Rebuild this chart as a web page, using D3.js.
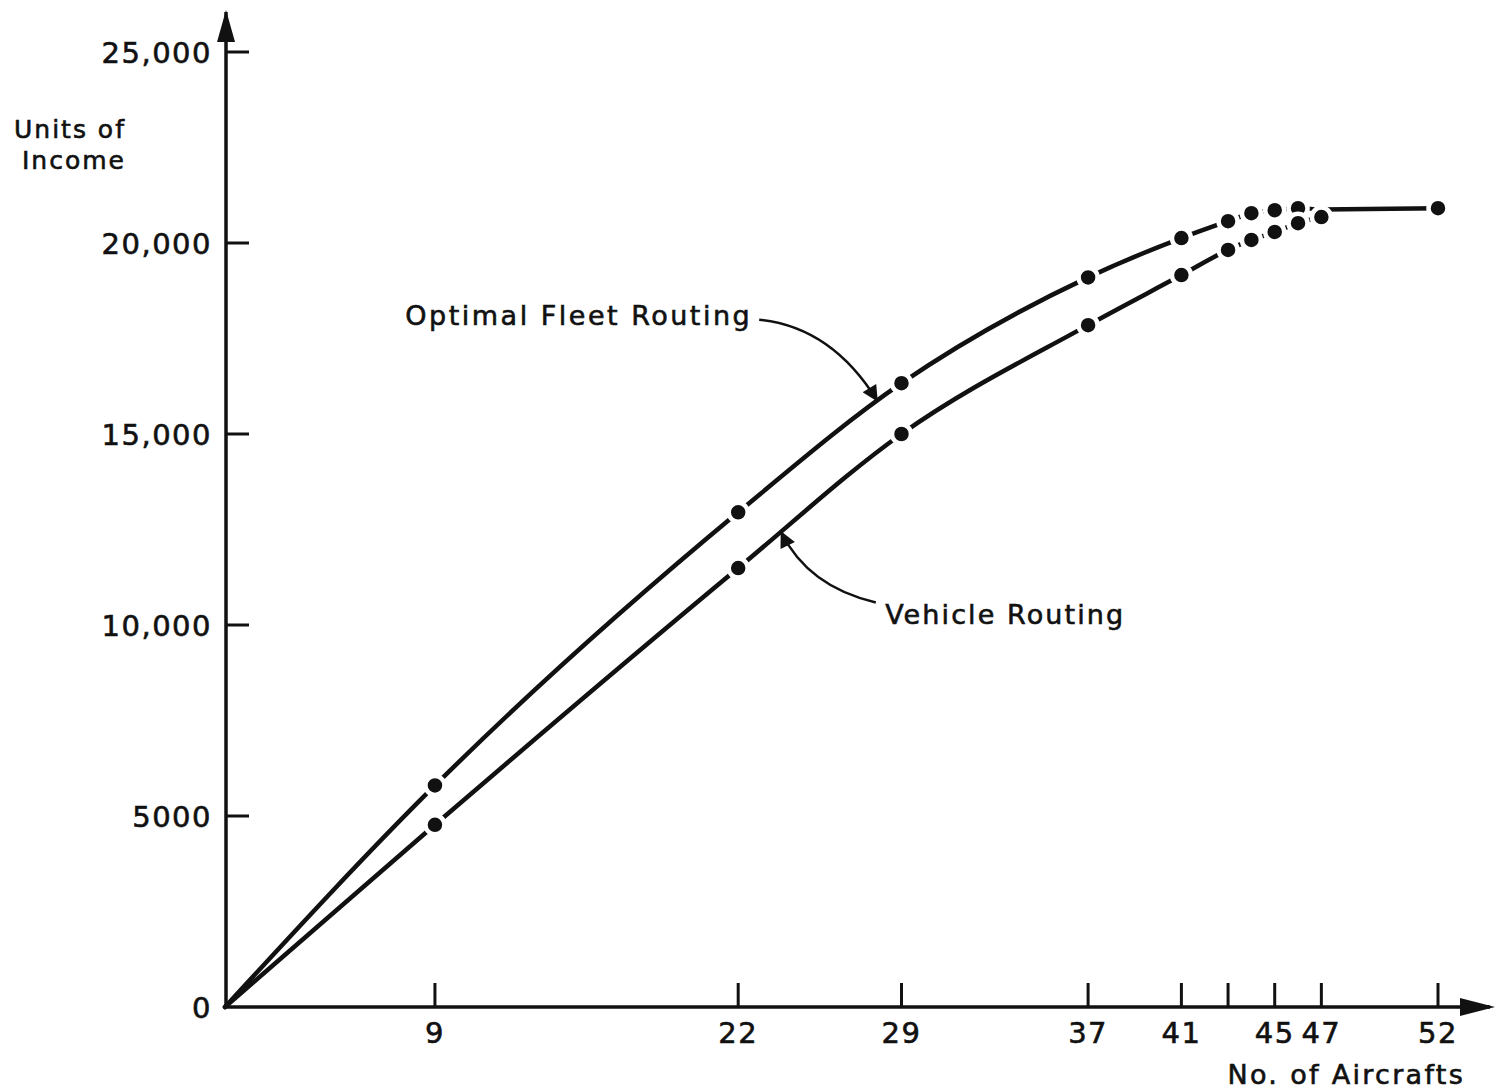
<!DOCTYPE html>
<html>
<head>
<meta charset="utf-8">
<script src="https://cdn.jsdelivr.net/npm/d3@7"></script>
<style>
  body { margin: 0; background: #fff; }
  text { font-family: "DejaVu Sans", sans-serif; fill: #111; stroke: #111; stroke-width: 0.6px; }
</style>
</head>
<body>
<script>
// values
const optimalX = [0, 9, 22, 29, 37, 41, 43, 44, 45, 46];
const optimalY = [0, 5800, 12950, 16330, 19100, 20130, 20570, 20780, 20860, 20910];
const vehicleX = [0, 9, 22, 29, 37, 41, 43, 44, 45, 46, 47];
const vehicleY = [0, 4770, 11490, 15000, 17850, 19160, 19820, 20080, 20290, 20520, 20680];
const tailX = [47, 52];
const tailY = [20880, 20910];
const xTicks = [9, 22, 29, 37, 41, 43, 45, 47, 52];
const xTickLabels = ["9", "22", "29", "37", "41", "", "45", "47", "52"];
const yTicks = [0, 5000, 10000, 15000, 20000, 25000];
const yTickLabels = ["0", "5000", "10,000", "15,000", "20,000", "25,000"];

const W = 1500, H = 1091;
const ink = "#111";

const svg = d3.select("body").append("svg")
    .attr("width", W)
    .attr("height", H);

const x = d3.scaleLinear().domain([0, 52]).range([225, 1438]);
const y = d3.scaleLinear().domain([0, 25000]).range([1007, 52]);

svg.append("defs").append("marker")
    .attr("id", "arr")
    .attr("viewBox", "0 0 10 10")
    .attr("refX", 9).attr("refY", 5)
    .attr("markerWidth", 24).attr("markerHeight", 16)
    .attr("markerUnits", "userSpaceOnUse")
    .attr("orient", "auto")
  .append("path")
    .attr("d", "M0,0 L10,5 L0,10 Z")
    .attr("fill", ink);

const axisG = svg.append("g");
axisG.append("line")
    .attr("x1", x(0) + 1).attr("y1", y(0))
    .attr("x2", x(0) + 1).attr("y2", 12)
    .attr("stroke", ink).attr("stroke-width", 3.5);
axisG.append("path")
    .attr("d", `M${x(0) + 1 - 9},${42} L${x(0) + 1},${10} L${x(0) + 1 + 9},${42} Z`)
    .attr("fill", ink);
axisG.append("line")
    .attr("x1", x(0)).attr("y1", y(0))
    .attr("x2", 1490).attr("y2", y(0))
    .attr("stroke", ink).attr("stroke-width", 3.5);
axisG.append("path")
    .attr("d", `M${1460},${y(0) - 9} L${1495},${y(0)} L${1460},${y(0) + 9} Z`)
    .attr("fill", ink);

// y ticks (inward)
axisG.selectAll(".yt").data(yTicks.slice(1)).join("line")
    .attr("x1", x(0) + 1).attr("x2", x(0) + 24)
    .attr("y1", d => y(d)).attr("y2", d => y(d))
    .attr("stroke", ink).attr("stroke-width", 3);
axisG.selectAll(".yl").data(yTicks).join("text")
    .attr("x", 212)
    .attr("y", d => y(d) + 11)
    .attr("text-anchor", "end")
    .attr("font-size", 29)
    .attr("letter-spacing", 1.5)
    .text((d, i) => yTickLabels[i]);

// x ticks (upward)
axisG.selectAll(".xt").data(xTicks).join("line")
    .attr("x1", d => x(d)).attr("x2", d => x(d))
    .attr("y1", y(0)).attr("y2", y(0) - 24)
    .attr("stroke", ink).attr("stroke-width", 3);
axisG.selectAll(".xl").data(xTicks).join("text")
    .attr("x", d => x(d))
    .attr("y", y(0) + 36)
    .attr("text-anchor", "middle")
    .attr("font-size", 29)
    .attr("letter-spacing", 1.5)
    .text((d, i) => xTickLabels[i]);

svg.append("text")
    .attr("x", 1465).attr("y", 1084)
    .attr("text-anchor", "end")
    .attr("font-size", 27)
    .attr("letter-spacing", 2.3)
    .text("No. of Aircrafts");

const yl = svg.append("text").attr("font-size", 25).attr("letter-spacing", 2);
yl.append("tspan").attr("x", 14).attr("y", 138).text("Units of");
yl.append("tspan").attr("x", 22).attr("y", 169).text("Income");

// series
const line = d3.line()
    .x(d => x(d[0]))
    .y(d => y(d[1]))
    .curve(d3.curveMonotoneX);

const opt = optimalX.map((v, i) => [v, optimalY[i]]);
const veh = vehicleX.map((v, i) => [v, vehicleY[i]]);
const tail = tailX.map((v, i) => [v, tailY[i]]);

[opt, veh, tail].forEach(s => {
  svg.append("path")
      .attr("d", line(s))
      .attr("fill", "none")
      .attr("stroke", ink)
      .attr("stroke-width", 4.5)
      .attr("stroke-linecap", "round");
});
// optimal bends down into the 47 point
svg.append("path")
    .attr("d", d3.line().x(d => x(d[0])).y(d => y(d[1])).curve(d3.curveBasis)(
      [opt[opt.length - 1], [46.7, 20910], [47, 20800], tail[0]]))
    .attr("fill", "none")
    .attr("stroke", ink)
    .attr("stroke-width", 4);

const dots = opt.slice(1).concat(veh.slice(1), [tail[1]]);
svg.selectAll(".dot").data(dots).join("circle")
    .attr("cx", d => x(d[0]))
    .attr("cy", d => y(d[1]))
    .attr("r", 9.5)
    .attr("fill", ink)
    .attr("stroke", "#fff")
    .attr("stroke-width", 4.5);

// annotations (positions in data units)
const annOpt = { label: "Optimal Fleet Routing", tx: 22.6, ty: 17850, from: [22.9, 17990], ctrl: [26.0, 17800], to: [27.95, 15880] };
const annVeh = { label: "Vehicle Routing", tx: 28.3, ty: 10030, from: [27.9, 10590], ctrl: [25.0, 11000], to: [23.85, 12420] };

svg.append("text")
    .attr("x", x(annOpt.tx)).attr("y", y(annOpt.ty))
    .attr("text-anchor", "end")
    .attr("font-size", 27)
    .attr("letter-spacing", 2.5)
    .text(annOpt.label);
svg.append("text")
    .attr("x", x(annVeh.tx)).attr("y", y(annVeh.ty))
    .attr("font-size", 27)
    .attr("letter-spacing", 2.1)
    .text(annVeh.label);

[annOpt, annVeh].forEach(a => {
  const p = d3.path();
  p.moveTo(x(a.from[0]), y(a.from[1]));
  p.quadraticCurveTo(x(a.ctrl[0]), y(a.ctrl[1]), x(a.to[0]), y(a.to[1]));
  svg.append("path")
      .attr("d", p.toString())
      .attr("fill", "none")
      .attr("stroke", ink)
      .attr("stroke-width", 2.5)
      .attr("marker-end", "url(#arr)");
});
</script>
</body>
</html>
